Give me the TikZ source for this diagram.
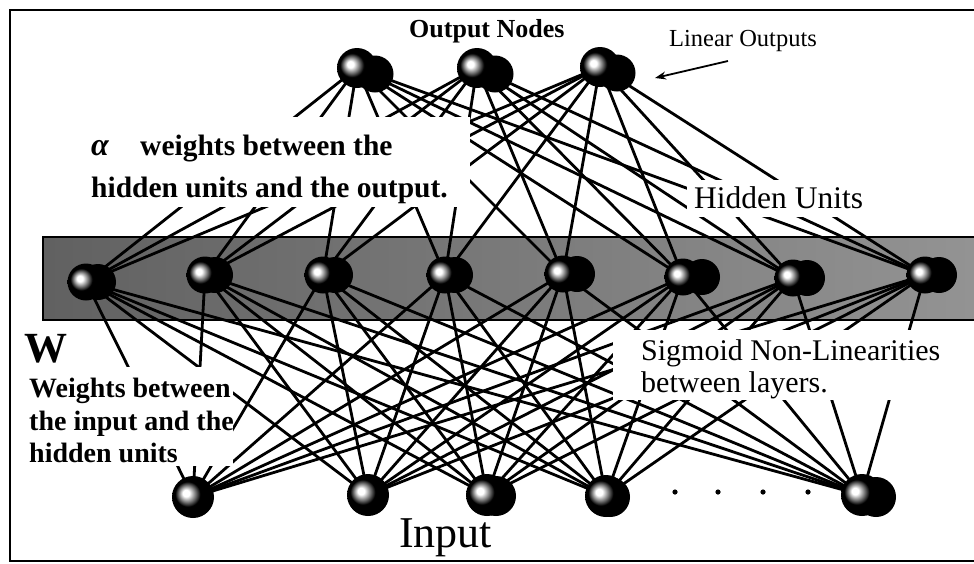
\documentclass[tikz,border=0pt]{standalone}
\usepackage{fontspec}
\setmainfont{Liberation Serif}
\usetikzlibrary{arrows.meta}
\pgfdeclarelayer{bandlayer}
\pgfdeclarelayer{wirelayer}
\pgfdeclarelayer{masklayer}
\pgfsetlayers{bandlayer,wirelayer,masklayer,main}
% dark sphere with a small specular highlight left of centre
\pgfdeclareradialshading{orb}{\pgfpoint{-9bp}{5bp}}{%
  color(0bp)=(white); color(4bp)=(white); color(9bp)=(black!45);
  color(15bp)=(black); color(50bp)=(black)}
\begin{document}
\begin{tikzpicture}[x=1pt,y=-1pt,
  wire/.style={line width=2.8pt},
  ball/.style={circle,inner sep=0pt,minimum size=#1,shading=orb},
  backball/.style={circle,inner sep=0pt,minimum size=#1,fill=black},
  mask/.style={fill=white},
  lbl/.style={anchor=base west,inner sep=0pt},
  boldtxt/.style={font=\bfseries\fontsize{#1}{#1}\selectfont},
  plaintxt/.style={font=\fontsize{#1}{#1}\selectfont},
  pointer/.style={line width=1.8pt,-{Stealth[length=11pt,width=8pt]}}]
\useasboundingbox (0,0) rectangle (974,563);

% frame
\draw[line width=2.2pt] (990,10) -- (10,10) -- (10,561) -- (990,561);

% shaded band behind the hidden layer
\begin{pgfonlayer}{bandlayer}
  \shade[left color=black!62,right color=black!42,draw=black,line width=2.4pt]
    (43,237) rectangle (990,320);
\end{pgfonlayer}

% output layer (front ball + ball behind it)
\node[backball=37] (o1b) at (375,74) {};
\node[ball=40] (o1) at (357,68) {};
\node[backball=37] (o2b) at (495,74) {};
\node[ball=40] (o2) at (477,68) {};
\node[backball=37] (o3b) at (617,73) {};
\node[ball=40] (o3) at (600,67) {};

% hidden layer
\foreach \n/\x/\bx/\y in {1/86/98/282, 2/205/215/275, 3/323/335/275, 4/445/455/275,
                          5/563/577/274, 6/683/702/277, 7/793/807/278, 8/925/939/275}{
  \node[backball=36] (h\n b) at (\bx,\y) {};
  \node[ball=37] (h\n) at (\x,\y) {};
}

% input layer
\node[ball=42] (i1) at (193,497) {};
\node[ball=42] (i2) at (368,495) {};
\node[backball=40] (i3b) at (496,496) {};
\node[ball=42] (i3) at (487,495) {};
\node[backball=40] (i4b) at (610,497) {};
\node[ball=42] (i4) at (606,496) {};
\node[backball=40] (i5b) at (876,497) {};
\node[ball=42] (i5) at (862,495) {};

% ellipsis between the last two inputs
\foreach \x in {675,718,763,808} \fill (\x,492) circle (2.6);

% weights
\begin{pgfonlayer}{wirelayer}
  \foreach \a in {1,2,3}
    \foreach \b in {1,...,8}
      \draw[wire] (o\a.center) -- (h\b.center);
  \foreach \b in {1,...,8}
    \foreach \c in {1,...,5}
      \draw[wire] (h\b.center) -- (i\c.center);
\end{pgfonlayer}

% white backing behind the labels that sit on the weights
\begin{pgfonlayer}{masklayer}
  \fill[mask] (12,117) rectangle (470,207);
  \fill[mask] (687,180) rectangle (870,217);
  \fill[mask] (12,367) rectangle (233,466);
  \fill[mask] (613,330) rectangle (942,400);
\end{pgfonlayer}

% labels
\node[lbl,boldtxt=26] (outlbl) at (409,37) {Output Nodes};
\node[lbl,plaintxt=24.5] (linlbl) at (669,46) {Linear Outputs};
\coordinate (linfrom) at (728,61);
\coordinate (linto) at (655,78);
\draw[pointer] (linfrom) -- (linto);

\node[lbl,font=\bfseries\itshape\fontsize{32}{32}\selectfont] (alpha) at (91,155) {α};
\node[lbl,boldtxt=29.5] (alphaA) at (140,155) {weights between the};
\node[lbl,boldtxt=29.5] (alphaB) at (91,197) {hidden units and the output.};

\node[lbl,plaintxt=31.5] (hidlbl) at (694,208) {Hidden Units};

\node[lbl,boldtxt=43] (wlbl) at (24,362) {W};
\node[lbl,boldtxt=28] (wA) at (29,397) {Weights between};
\node[lbl,boldtxt=28] (wB) at (29,430) {the input and the};
\node[lbl,boldtxt=28] (wC) at (29,462) {hidden units};

\node[lbl,plaintxt=30] (sigA) at (641,360) {Sigmoid Non-Linearities};
\node[lbl,plaintxt=30] (sigB) at (641,392) {between layers.};

\node[lbl,plaintxt=44] (inlbl) at (399,547) {Input};
\end{tikzpicture}
\end{document}
